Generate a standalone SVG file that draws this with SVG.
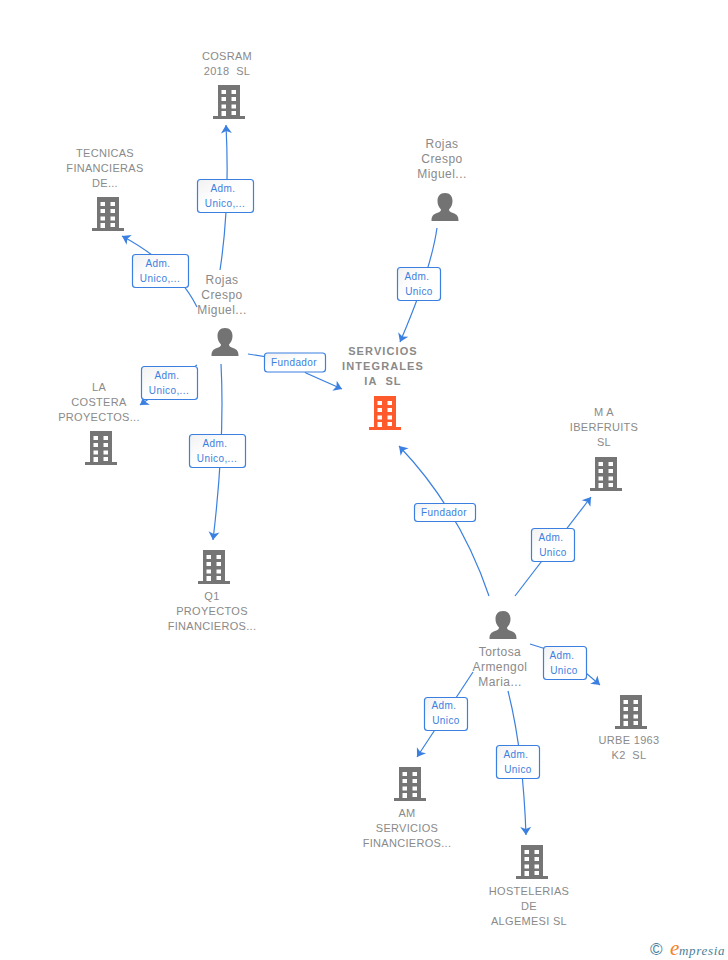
<svg xmlns="http://www.w3.org/2000/svg" width="728" height="960" viewBox="0 0 728 960">
<style>
text{white-space:pre}
.t{font:11px "Liberation Sans",Arial,sans-serif;fill:#8a8a8a;text-anchor:middle;letter-spacing:.3px}
.b{font-weight:bold;letter-spacing:1.1px}
.p{font-size:12px;letter-spacing:.45px}
.c{fill:none;stroke:#3b80e0;stroke-width:1.2;marker-end:url(#a)}
.l{fill:url(#g);stroke:#3b80e0;stroke-width:1.2}
.lt{font:10px "Liberation Sans",Arial,sans-serif;fill:#3b80e0;text-anchor:middle;letter-spacing:.4px}
</style>
<defs>
<linearGradient id="g" x1="0" y1="0" x2="1" y2="1"><stop offset="0" stop-color="#f1f1f1"/><stop offset=".45" stop-color="#fff"/></linearGradient>
<marker id="a" markerUnits="userSpaceOnUse" markerWidth="14" markerHeight="14" refX="9" refY="5" orient="auto" viewBox="0 0 12 10"><path d="M2,0.300 L9,5 L2,9.700 L3.800,5z" fill="#3b80e0"/></marker>
<g id="bld"><path d="M5,0H27V31H32V34H0V31H5z" fill="currentColor"/><path d="M8.500,5h4.500v4h-4.500zM18.500,5h4.500v4h-4.500zM8.500,12h4.500v4h-4.500zM18.500,12h4.500v4h-4.500zM8.500,19.500h4.500v4h-4.500zM18.500,19.500h4.500v4h-4.500zM18.500,26h4.500v4h-4.500zM8.500,26h4.500v5h-4.500z" fill="#fff"/></g>
<path id="per" d="M14,0c5,0 7.500,3.500 7.500,8c0,3-1,6-3.500,8.500c0,1.500 1,2.500 4,3.500c4,1.500 5.500,3 5.500,8H0.500c0-5 1.500-6.500 5.500-8c3-1 4-2 4-3.500c-2.500-2.500-3.500-5.500-3.500-8.500c0-4.500 2.500-8 7.500-8z" fill="#737373"/>
</defs>
<g id="connectors">
<path class="c" d="M220,270Q230,205 226,125"/>
<path class="c" d="M197,307Q176,265 122,236"/>
<path class="c" d="M197,365L140,405"/>
<path class="c" d="M221,364Q225,440 213,540"/>
<path class="c" d="M248,354L286,360Q300,365 306,373L342,389"/>
<path class="c" d="M437,228Q431,270 400,342"/>
<path class="c" d="M489,596Q460,510 399,446"/>
<path class="c" d="M515,596L591,497"/>
<path class="c" d="M530,644L565,655L600,685"/>
<path class="c" d="M473,672L417,757"/>
<path class="c" d="M508,691Q523,750 526,835"/>
</g>
<g id="n-cosram" color="#757575"><use href="#bld" x="213" y="85"/><text class="t" x="227" y="60">COSRAM</text><text class="t" x="227" y="75">2018  SL</text></g>
<g id="n-tecnicas" color="#757575"><use href="#bld" x="92" y="197"/><text class="t" x="105" y="157">TECNICAS</text><text class="t" x="105" y="172">FINANCIERAS</text><text class="t" x="105" y="187">DE...</text></g>
<g id="n-costera" color="#757575"><use href="#bld" x="85" y="431"/><text class="t" x="99" y="391">LA</text><text class="t" x="99" y="406">COSTERA</text><text class="t" x="99" y="421">PROYECTOS...</text></g>
<g id="n-q1" color="#757575"><use href="#bld" x="198" y="550"/><text class="t" x="212" y="600">Q1</text><text class="t" x="212" y="615">PROYECTOS</text><text class="t" x="212" y="630">FINANCIEROS...</text></g>
<g id="n-servicios" color="#ff5a2c"><use href="#bld" x="369" y="396"/><text class="t b" x="383" y="355">SERVICIOS</text><text class="t b" x="383" y="370">INTEGRALES</text><text class="t b" x="383" y="385">IA  SL</text></g>
<g id="n-ma" color="#757575"><use href="#bld" x="590" y="457"/><text class="t" x="604" y="416">M A</text><text class="t" x="604" y="431">IBERFRUITS</text><text class="t" x="604" y="446">SL</text></g>
<g id="n-urbe" color="#757575"><use href="#bld" x="615" y="695"/><text class="t" x="629" y="744">URBE 1963</text><text class="t" x="629" y="759">K2  SL</text></g>
<g id="n-am" color="#757575"><use href="#bld" x="394" y="767"/><text class="t" x="407" y="817">AM</text><text class="t" x="407" y="832">SERVICIOS</text><text class="t" x="407" y="847">FINANCIEROS...</text></g>
<g id="n-host" color="#757575"><use href="#bld" x="516" y="845"/><text class="t" x="529" y="895">HOSTELERIAS</text><text class="t" x="529" y="910">DE</text><text class="t" x="529" y="925">ALGEMESI SL</text></g>
<g id="p-rojas1"><use href="#per" x="211" y="328"/><text class="t p" x="222" y="284">Rojas</text><text class="t p" x="222" y="299">Crespo</text><text class="t p" x="222" y="314">Miguel...</text></g>
<g id="p-rojas2"><use href="#per" x="431" y="193"/><text class="t p" x="442" y="148">Rojas</text><text class="t p" x="442" y="163">Crespo</text><text class="t p" x="442" y="178">Miguel...</text></g>
<g id="p-tortosa"><use href="#per" x="489" y="611"/><text class="t p" x="500" y="656">Tortosa</text><text class="t p" x="500" y="671">Armengol</text><text class="t p" x="500" y="686">Maria...</text></g>
<g id="labels">
<rect class="l" x="197.500" y="179.500" width="56" height="33" rx="3"/><text class="lt" x="223" y="192">Adm.</text><text class="lt" x="225" y="207">Unico,...</text>
<rect class="l" x="132.500" y="254.500" width="56" height="33" rx="3"/><text class="lt" x="158" y="267">Adm.</text><text class="lt" x="160" y="282">Unico,...</text>
<rect class="l" x="141.500" y="366.500" width="56" height="33" rx="3"/><text class="lt" x="167" y="379">Adm.</text><text class="lt" x="169" y="394">Unico,...</text>
<rect class="l" x="189.500" y="434.500" width="56" height="33" rx="3"/><text class="lt" x="215" y="447">Adm.</text><text class="lt" x="217" y="462">Unico,...</text>
<rect class="l" x="264.500" y="353" width="61" height="19" rx="3"/><text class="lt" x="294" y="366">Fundador</text>
<rect class="l" x="397.500" y="267.500" width="43" height="33" rx="3"/><text class="lt" x="417" y="280">Adm.</text><text class="lt" x="419" y="295">Unico</text>
<rect class="l" x="414.500" y="503.500" width="61" height="18" rx="3"/><text class="lt" x="444" y="516">Fundador</text>
<rect class="l" x="531.500" y="528.500" width="43" height="33" rx="3"/><text class="lt" x="551" y="541">Adm.</text><text class="lt" x="553" y="556">Unico</text>
<rect class="l" x="543.500" y="646.500" width="43" height="33" rx="3"/><text class="lt" x="562" y="659">Adm.</text><text class="lt" x="564" y="674">Unico</text>
<rect class="l" x="424.500" y="697.500" width="43" height="33" rx="3"/><text class="lt" x="444" y="709">Adm.</text><text class="lt" x="446" y="724">Unico</text>
<rect class="l" x="496.500" y="745.500" width="43" height="33" rx="3"/><text class="lt" x="516" y="758">Adm.</text><text class="lt" x="518" y="773">Unico</text>
</g>
<g id="logo"><text x="650" y="955" style="font:17px 'Liberation Sans',sans-serif;fill:#4a8098">©</text><text x="670" y="955" style="font:italic 21px 'Liberation Serif',serif;fill:#f5821f">e</text><text x="679" y="955" style="font:italic 13px 'Liberation Serif',serif;fill:#4a8098;letter-spacing:.7px">mpresia</text></g>
</svg>
